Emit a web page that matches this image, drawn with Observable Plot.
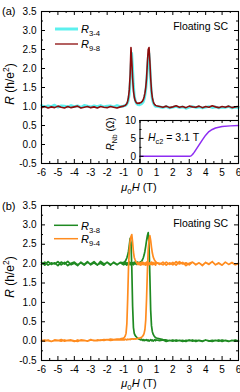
<!DOCTYPE html>
<html>
<head>
<meta charset="utf-8">
<script src="https://cdn.jsdelivr.net/npm/d3@7"></script>
<script src="https://cdn.jsdelivr.net/npm/@observablehq/plot@0.6"></script>
<style>
  html, body { margin: 0; padding: 0; background: white; }
  #chart { position: relative; width: 240px; height: 392px; overflow: hidden; font-family: "Liberation Sans", Arial, sans-serif; }
  #chart > div { position: absolute; }
</style>
</head>
<body>
<div id="chart">
  <div id="pa" style="left:0;top:0"></div>
  <div id="inset" style="left:100px;top:108px"></div>
  <div id="pb" style="left:0;top:196px"></div>
</div>
<script>
// ---------------- DATA ----------------
// Field grid (T): coarse on the wings, fine around zero field
const H_GRID = [
  -6,-5.8,-5.6,-5.4,-5.2,-5,-4.8,-4.6,-4.4,-4.2,-4,-3.8,-3.6,-3.4,-3.2,-3,-2.8,-2.6,-2.4,-2.2,-2,-1.8,-1.6,-1.4,-1.2,
  -1,-0.95,-0.9,-0.85,-0.8,-0.75,-0.7,-0.65,-0.6,-0.55,-0.5,-0.45,-0.4,-0.35,-0.3,-0.25,-0.2,-0.15,-0.1,-0.05,
  0,0.05,0.1,0.15,0.2,0.25,0.3,0.35,0.4,0.45,0.5,0.55,0.6,0.65,0.7,0.75,0.8,0.85,0.9,0.95,1,
  1.2,1.4,1.6,1.8,2,2.2,2.4,2.6,2.8,3,3.2,3.4,3.6,3.8,4,4.2,4.4,4.6,4.8,5,5.2,5.4,5.6,5.8,6
];

// Panel (a): R (h/e^2)
const R_3_4 = [
  1.03,0.99,1.02,1.00,1.04,0.98,1.02,1.01,0.99,1.03,1.00,1.02,0.98,1.03,1.01,0.99,1.02,1.00,1.03,0.99,1.01,1.02,0.99,1.03,1.00,
  1.01,1.03,1.02,1.04,1.06,1.10,1.18,1.32,1.60,2.05,2.40,2.05,1.60,1.32,1.18,1.11,1.07,1.05,1.05,1.04,
  1.05,1.06,1.07,1.09,1.12,1.18,1.28,1.42,1.65,1.98,2.30,2.40,2.10,1.68,1.36,1.18,1.10,1.05,1.02,1.00,1.00,
  0.99,0.97,1.00,0.96,0.98,1.00,0.97,0.99,0.95,0.98,1.00,0.97,0.99,0.96,0.98,1.00,0.97,0.99,0.96,0.98,0.97,1.00,0.96,0.98,0.97
];
const R_9_8 = [
  0.97,1.00,0.96,0.99,0.97,1.01,0.98,0.96,1.00,0.97,0.99,1.01,0.96,0.98,1.00,0.97,0.99,0.96,1.00,0.98,0.97,1.00,0.98,0.96,0.99,
  1.01,1.02,1.03,1.05,1.08,1.14,1.25,1.45,1.85,2.55,2.20,1.75,1.42,1.25,1.16,1.12,1.09,1.08,1.09,1.08,
  1.10,1.10,1.12,1.14,1.18,1.25,1.35,1.50,1.75,2.15,2.50,2.55,2.20,1.75,1.42,1.24,1.14,1.08,1.05,1.03,1.02,
  1.00,0.98,1.01,0.97,0.99,1.02,0.98,1.00,0.97,1.01,0.99,0.98,1.01,0.97,1.00,0.98,1.02,0.99,0.97,1.00,0.98,1.01,0.97,0.99,1.00
];

// Panel (b): each trace is an up-sweep and a down-sweep (both listed in ascending field order)
const R_3_8_up = [
  2.03,1.96,2.05,1.98,2.02,1.95,2.04,1.99,2.06,1.97,2.01,1.95,2.04,1.98,2.05,1.97,2.02,1.96,2.06,1.99,2.03,1.96,2.04,1.98,2.02,
  1.97,2.04,1.98,2.03,1.96,2.02,1.99,2.04,1.97,2.03,1.98,2.02,1.97,2.04,1.99,2.03,1.98,2.04,2.00,2.03,
  2.02,2.05,2.06,2.10,2.15,2.22,2.32,2.45,2.60,2.72,2.80,2.50,1.70,0.80,0.40,0.25,0.18,0.14,0.11,0.09,0.08,
  0.06,0.04,0.03,0.01,0.03,0.00,0.02,-0.01,0.02,0.01,0.03,-0.01,0.02,0.00,0.03,0.01,-0.01,0.02,0.00,0.03,0.01,-0.01,0.02,0.00,0.01
];
const R_3_8_down = [
  1.98,2.04,1.96,2.02,1.99,2.05,1.97,2.03,1.95,2.01,2.04,1.97,2.02,1.96,2.03,1.99,2.05,1.97,2.01,1.96,2.04,1.98,2.02,1.97,2.03,
  2.02,2.05,2.06,2.10,2.15,2.22,2.32,2.48,2.65,2.55,1.90,0.90,0.35,0.20,0.15,0.12,0.10,0.08,0.06,0.05,
  0.04,0.03,0.05,0.02,0.04,0.01,0.03,0.02,0.04,0.01,0.03,0.00,0.02,0.04,0.01,0.03,0.00,0.02,0.04,0.01,0.03,
  0.01,0.03,-0.01,0.02,0.00,0.03,0.01,0.02,-0.01,0.03,0.00,0.02,0.01,-0.01,0.03,0.00,0.02,0.01,0.03,-0.01,0.02,0.00,0.01,0.03,0.00
];
const R_9_4_up = [
  0.02,0.00,0.03,-0.01,0.02,0.01,0.04,0.00,0.02,0.03,0.01,-0.01,0.03,0.02,0.00,0.04,0.01,0.03,0.02,0.04,0.03,0.05,0.04,0.05,0.06,
  0.08,0.10,0.13,0.20,0.45,1.10,1.90,2.35,2.58,2.70,2.75,2.55,2.30,2.16,2.10,2.05,2.02,1.98,2.03,1.97,
  2.02,1.96,2.04,1.98,2.03,1.97,2.02,1.96,2.04,1.99,2.03,1.97,2.02,1.98,2.04,1.97,2.03,1.98,2.02,1.96,2.03,
  1.98,2.04,1.96,2.02,1.97,2.05,1.99,2.03,1.95,2.01,2.04,1.97,2.02,1.96,2.03,1.98,2.05,1.97,2.01,1.96,2.04,1.98,2.02,1.97,2.00
];
const R_9_4_down = [
  0.00,0.03,0.01,-0.01,0.03,0.02,0.00,0.03,0.01,0.02,-0.01,0.03,0.01,0.02,0.00,0.03,0.02,0.01,0.03,0.02,0.04,0.02,0.03,0.04,0.03,
  0.04,0.03,0.05,0.04,0.03,0.05,0.04,0.05,0.04,0.06,0.05,0.06,0.05,0.06,0.05,0.06,0.06,0.07,0.07,0.08,
  0.08,0.09,0.10,0.12,0.15,0.20,0.30,0.55,1.10,1.80,2.35,2.62,2.72,2.60,2.42,2.28,2.18,2.12,2.08,2.05,2.03,
  2.01,1.97,2.04,1.98,2.03,1.96,2.05,1.99,2.02,1.97,2.04,1.98,2.02,1.95,2.03,1.99,2.05,1.97,2.02,1.96,2.04,1.98,2.03,1.97,2.01
];

// Inset: Nb film resistance (Ohm) vs field
const H_NB = [0,0.5,1,1.5,2,2.5,3,3.1,3.2,3.3,3.4,3.5,3.6,3.8,4,4.2,4.4,4.6,4.8,5,5.5,6];
const R_NB = [0.02,0.01,0,0.01,0,0.01,0.05,0.1,0.5,1.1,1.8,2.5,3.2,4.6,5.9,6.9,7.5,7.9,8.1,8.3,8.5,8.6];

// Ticks
const X_TICKS = [-6,-5,-4,-3,-2,-1,0,1,2,3,4,5,6];
const X_MINOR = [-5.5,-4.5,-3.5,-2.5,-1.5,-0.5,0.5,1.5,2.5,3.5,4.5,5.5];
const Y_TICKS = [-0.5,0,0.5,1,1.5,2,2.5,3,3.5];
const Y_MINOR = [-0.25,0.25,0.75,1.25,1.75,2.25,2.75,3.25];
const INSET_X_TICKS = [0,1,2,3,4,5,6];
const INSET_X_MINOR = [0.5,1.5,2.5,3.5,4.5,5.5];
const INSET_Y_TICKS = [0,5,10];
const INSET_Y_MINOR = [2.5,7.5];

// Colors
const C_CYAN = "#5cf0ee", C_RED = "#8c0b0b", C_GREEN = "#1f8a22", C_ORANGE = "#ff8c1f", C_PURPLE = "#8d2cf2";

// ---------------- BUILD ----------------
function rows(vals, name) {
  if (vals.length !== H_GRID.length) console.error("length mismatch", name, vals.length);
  return H_GRID.map((h, i) => ({H: h, R: vals[i], s: name}));
}
function loop(up, down, name) {
  return rows(up, name).concat(rows(down, name).reverse());
}
const dA34 = rows(R_3_4, "R3-4");
const dA98 = rows(R_9_8, "R9-8");
const dB38 = loop(R_3_8_up, R_3_8_down, "R3-8");
const dB94 = loop(R_9_4_up, R_9_4_down, "R9-4");
const dNb = H_NB.map((h, i) => ({H: h, R: R_NB[i]}));

const FONT = "'Liberation Sans', Arial, Helvetica, sans-serif";

function frameTicks(innerW, innerH) {
  const M = 4, m = 2;
  return [
    Plot.tickX(X_TICKS, {x: d => d, insetTop: innerH - M, stroke: "black"}),
    Plot.tickX(X_MINOR, {x: d => d, insetTop: innerH - m, stroke: "black"}),
    Plot.tickX(X_TICKS, {x: d => d, insetBottom: innerH - M, stroke: "black"}),
    Plot.tickX(X_MINOR, {x: d => d, insetBottom: innerH - m, stroke: "black"}),
    Plot.tickY(Y_TICKS, {y: d => d, insetRight: innerW - M, stroke: "black"}),
    Plot.tickY(Y_MINOR, {y: d => d, insetRight: innerW - m, stroke: "black"}),
    Plot.tickY(Y_TICKS, {y: d => d, insetLeft: innerW - M, stroke: "black"}),
    Plot.tickY(Y_MINOR, {y: d => d, insetLeft: innerW - m, stroke: "black"})
  ];
}

function mainPlot(series, mt, mb) {
  const W = 240, Hh = 196, ml = 41, mr = 2;
  const innerW = W - ml - mr, innerH = Hh - mt - mb;
  return Plot.plot({
    width: W, height: Hh,
    marginLeft: ml, marginRight: mr, marginTop: mt, marginBottom: mb,
    style: {background: "transparent", fontFamily: FONT, fontSize: "10px", color: "black", overflow: "visible"},
    x: {domain: [-6, 6]},
    y: {domain: [-0.5, 3.5]},
    marks: [
      ...series.map(s => Plot.line(s.data, {x: "H", y: "R", stroke: s.color, strokeWidth: s.w})),
      ...frameTicks(innerW, innerH),
      Plot.frame({stroke: "black", strokeWidth: 1.1}),
      Plot.axisX({ticks: X_TICKS, tickSize: 0, tickPadding: 5, tickFormat: d => String(d), label: null, fontSize: 10}),
      Plot.axisY({ticks: Y_TICKS, tickSize: 0, tickPadding: 5, tickFormat: d => d.toFixed(1), label: null, fontSize: 10})
    ]
  });
}

const plotA = mainPlot([
  {data: dA34, color: C_CYAN, w: 2.6},
  {data: dA98, color: C_RED, w: 1.6}
], 11, 33);
const plotB = mainPlot([
  {data: dB38, color: C_GREEN, w: 1.7},
  {data: dB94, color: C_ORANGE, w: 1.7}
], 9, 32);

const IW = 140, IH = 60, iml = 39.5, imr = 2, imt = 12, imb = 5;
const iInnerW = IW - iml - imr, iInnerH = IH - imt - imb;
const inset = Plot.plot({
  width: IW, height: IH,
  marginLeft: iml, marginRight: imr, marginTop: imt, marginBottom: imb,
  style: {background: "transparent", fontFamily: FONT, fontSize: "10px", color: "black", overflow: "visible"},
  x: {domain: [0, 6]},
  y: {domain: [-2, 10]},
  marks: [
    Plot.frame({fill: "white", stroke: null}),
    Plot.line(dNb, {x: "H", y: "R", stroke: C_PURPLE, strokeWidth: 1.5}),
    Plot.tickX(INSET_X_TICKS, {x: d => d, insetTop: iInnerH - 4, stroke: "black"}),
    Plot.tickX(INSET_X_MINOR, {x: d => d, insetTop: iInnerH - 2, stroke: "black"}),
    Plot.tickX(INSET_X_TICKS, {x: d => d, insetBottom: iInnerH - 3, stroke: "black"}),
    Plot.tickX(INSET_X_MINOR, {x: d => d, insetBottom: iInnerH - 2, stroke: "black"}),
    Plot.tickY(INSET_Y_TICKS, {y: d => d, insetRight: iInnerW - 4, stroke: "black"}),
    Plot.tickY(INSET_Y_MINOR, {y: d => d, insetRight: iInnerW - 2, stroke: "black"}),
    Plot.tickY(INSET_Y_TICKS, {y: d => d, insetLeft: iInnerW - 4, stroke: "black"}),
    Plot.frame({stroke: "black", strokeWidth: 1.1}),
    Plot.axisX({ticks: [], tickSize: 0, label: null}),
    Plot.axisY({ticks: INSET_Y_TICKS, tickSize: 0, tickPadding: 4, tickFormat: d => String(d), label: null, fontSize: 10})
  ]
});

document.getElementById("pa").append(plotA);
document.getElementById("inset").append(inset);
document.getElementById("pb").append(plotB);

// ---------------- RICH TEXT ----------------
function rich(svg, x, y, segs, opts = {}) {
  const t = d3.select(svg).append("text")
    .attr("x", x).attr("y", y)
    .attr("font-family", FONT)
    .attr("font-size", opts.size || 11)
    .attr("fill", "black")
    .attr("text-anchor", opts.anchor || "start");
  if (opts.rotate) t.attr("transform", `rotate(-90,${x},${y})`);
  let shift = 0;
  const base = opts.size || 11;
  for (const s of segs) {
    const target = s.sub ? base * 0.28 : s.sup ? -base * 0.38 : 0;
    const sp = t.append("tspan").text(s.t);
    if (target !== shift) sp.attr("dy", target - shift);
    shift = target;
    if (s.i) sp.attr("font-style", "italic");
    if (s.sub || s.sup) sp.attr("font-size", base * 0.7);
  }
  return t;
}
function legendLine(svg, x1, x2, y, color, w) {
  d3.select(svg).append("line").attr("x1", x1).attr("x2", x2).attr("y1", y).attr("y2", y)
    .attr("stroke", color).attr("stroke-width", w);
}

const yTitle = [{t: "R", i: true}, {t: " (h/e"}, {t: "2", sup: true}, {t: ")"}];
const xTitle = [{t: "μ", i: true}, {t: "0", sub: true}, {t: "H", i: true}, {t: " (T)"}];

// Panel (a)
rich(plotA, 2, 15, [{t: "(a)"}], {size: 11});
rich(plotA, 14, 84, yTitle, {size: 12, anchor: "middle", rotate: true});
rich(plotA, 139, 191, xTitle, {size: 11, anchor: "middle"});
rich(plotA, 228, 30, [{t: "Floating SC"}], {size: 10.5, anchor: "end"});
legendLine(plotA, 55, 78, 29, C_CYAN, 3);
rich(plotA, 81, 33, [{t: "R", i: true}, {t: "3-4", sub: true}], {size: 11});
legendLine(plotA, 55, 78, 44, C_RED, 1.3);
rich(plotA, 81, 48, [{t: "R", i: true}, {t: "9-8", sub: true}], {size: 11});

// Inset labels (inset svg offset: left 100, top 108)
rich(inset, 14, 26, [{t: "R", i: true}, {t: "Nb", sub: true}, {t: " (Ω)"}], {size: 10, anchor: "middle", rotate: true});
rich(inset, 48, 33, [{t: "H", i: true}, {t: "c2", sub: true}, {t: " = 3.1 T"}], {size: 10.5});

// Panel (b) (svg offset top 196)
rich(plotB, 2, 14, [{t: "(b)"}], {size: 11});
rich(plotB, 14, 81, yTitle, {size: 12, anchor: "middle", rotate: true});
rich(plotB, 139, 191, xTitle, {size: 11, anchor: "middle"});
rich(plotB, 228, 30.5, [{t: "Floating SC"}], {size: 10.5, anchor: "end"});
legendLine(plotB, 54, 78, 29.3, C_GREEN, 1.5);
rich(plotB, 81, 33.5, [{t: "R", i: true}, {t: "3-8", sub: true}], {size: 11});
legendLine(plotB, 54, 78, 42.7, C_ORANGE, 1.5);
rich(plotB, 81, 47, [{t: "R", i: true}, {t: "9-4", sub: true}], {size: 11});
</script>
</body>
</html>
